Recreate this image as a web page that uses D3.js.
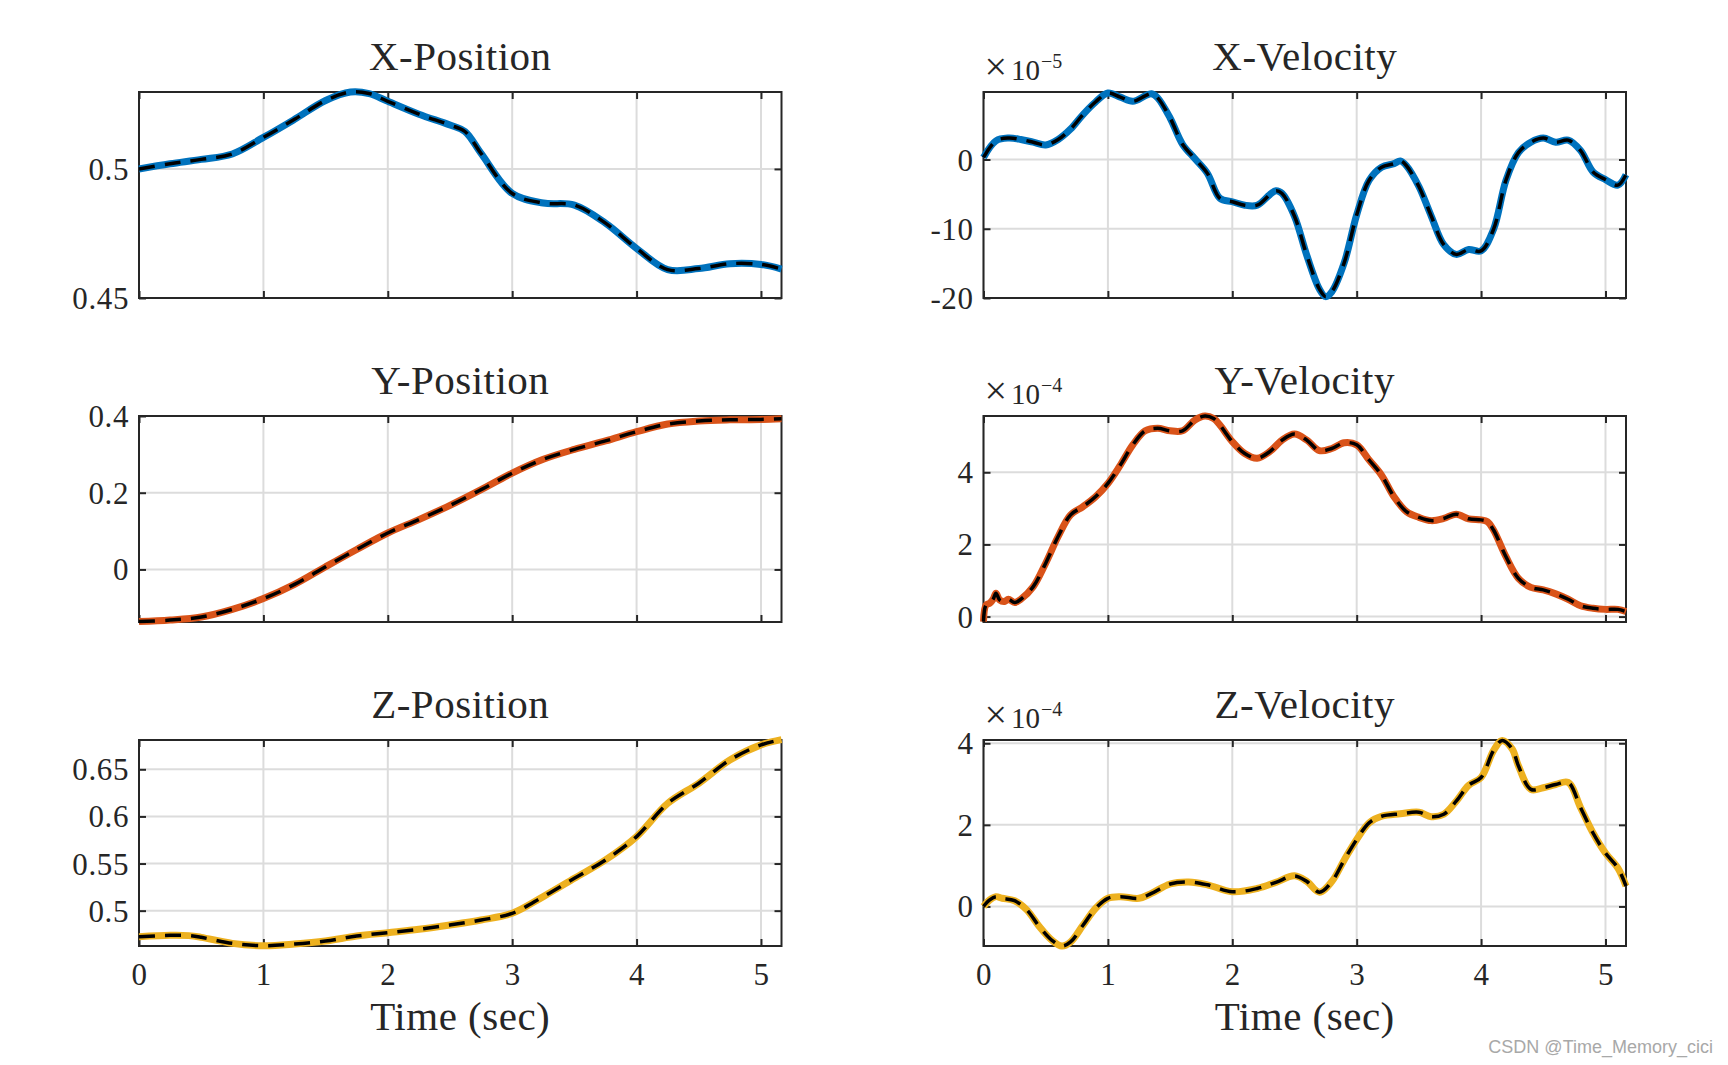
<!DOCTYPE html>
<html><head><meta charset="utf-8">
<script src="https://cdn.jsdelivr.net/npm/d3@7"></script>
<style>
body{margin:0;background:#fff}
svg{display:block}
text{font-family:"Liberation Serif","Times New Roman",serif;fill:#262626}
</style>
</head><body>
<svg id="c" width="1728" height="1065"></svg>
<script>
// ---------- data (time in sec) ----------
const xPosT = [0,0.25,0.5,0.75,1,1.25,1.5,1.7,1.85,2,2.25,2.5,2.62,2.75,3,3.25,3.5,3.75,4,4.25,4.5,4.75,5,5.165];
const xPosV = [0.5,0.502,0.5037,0.5058,0.5122,0.5192,0.5265,0.5298,0.5292,0.5262,0.5212,0.517,0.5145,0.506,0.4905,0.4868,0.486,0.479,0.4692,0.461,0.4614,0.4633,0.463,0.4612];

const yPosT = [0,0.25,0.5,0.75,1,1.25,1.5,1.75,2,2.25,2.5,2.75,3,3.25,3.5,3.75,4,4.25,4.5,4.75,5,5.165];
const yPosV = [-0.136,-0.132,-0.124,-0.104,-0.076,-0.039,0.007,0.052,0.095,0.130,0.167,0.208,0.251,0.287,0.313,0.335,0.359,0.379,0.387,0.390,0.391,0.393];

const zPosT = [0,0.25,0.4,0.5,0.75,1,1.25,1.5,1.75,2,2.25,2.5,2.75,3,3.25,3.5,3.75,4,4.25,4.5,4.75,5,5.165];
const zPosV = [0.4724,0.4738,0.4735,0.4717,0.4653,0.4628,0.4646,0.4678,0.4731,0.4766,0.4802,0.4848,0.4901,0.4972,0.5149,0.5343,0.5538,0.5786,0.6139,0.6352,0.6599,0.6759,0.6815];

// velocities in displayed units (x 10^exp)
const xVelT = [0,0.1,0.2,0.3,0.4,0.5,0.6,0.7,0.8,0.9,1.0,1.1,1.2,1.3,1.35,1.4,1.5,1.6,1.7,1.8,1.9,2.0,2.1,2.2,2.3,2.35,2.4,2.5,2.6,2.7,2.75,2.8,2.9,3.0,3.1,3.2,3.3,3.35,3.4,3.5,3.6,3.7,3.8,3.9,4.0,4.1,4.2,4.3,4.4,4.5,4.6,4.7,4.8,4.9,5.0,5.1,5.165];
const xVelV = [0.3,2.7,3.1,2.9,2.5,2.1,2.9,4.4,6.5,8.3,9.6,9.0,8.4,9.2,9.5,8.9,6.0,2.2,0.1,-2.0,-5.6,-6.1,-6.6,-6.6,-5.1,-4.5,-4.9,-8.2,-13.9,-18.7,-19.8,-19.1,-14.9,-8.0,-3.0,-1.1,-0.6,-0.2,-0.9,-3.9,-8.2,-12.3,-13.7,-13.0,-13.2,-10.1,-3.0,1.0,2.5,3.1,2.5,2.8,1.3,-1.8,-2.9,-3.7,-2.2];

const yVelT = [0,0.02,0.05,0.08,0.1,0.13,0.17,0.2,0.25,0.3,0.4,0.5,0.6,0.7,0.8,0.9,1.0,1.1,1.2,1.3,1.4,1.5,1.6,1.7,1.78,1.85,1.9,2.0,2.1,2.2,2.3,2.4,2.5,2.6,2.7,2.8,2.9,3.0,3.1,3.2,3.3,3.4,3.5,3.6,3.7,3.8,3.9,4.0,4.05,4.1,4.2,4.3,4.4,4.5,4.6,4.7,4.8,4.9,5.0,5.1,5.165];
const yVelV = [-0.14,0.32,0.37,0.5,0.65,0.46,0.42,0.48,0.39,0.48,0.83,1.48,2.22,2.82,3.05,3.32,3.69,4.2,4.76,5.15,5.22,5.15,5.15,5.45,5.56,5.49,5.31,4.85,4.52,4.39,4.57,4.89,5.06,4.89,4.6,4.66,4.82,4.76,4.34,3.92,3.32,2.91,2.75,2.66,2.72,2.84,2.71,2.68,2.63,2.4,1.66,1.06,0.81,0.74,0.63,0.48,0.3,0.23,0.2,0.2,0.14];

const zVelT = [0,0.05,0.1,0.15,0.25,0.35,0.45,0.55,0.63,0.7,0.8,0.9,1.0,1.1,1.25,1.35,1.5,1.65,1.8,2.0,2.2,2.35,2.5,2.6,2.7,2.8,2.9,3.0,3.1,3.2,3.35,3.5,3.6,3.7,3.8,3.9,4.0,4.1,4.17,4.25,4.3,4.4,4.5,4.6,4.7,4.8,4.9,5.0,5.1,5.165];
const zVelV = [0.0,0.16,0.24,0.2,0.14,-0.09,-0.5,-0.83,-0.97,-0.87,-0.46,-0.05,0.2,0.24,0.2,0.32,0.55,0.6,0.53,0.36,0.44,0.59,0.75,0.61,0.35,0.61,1.14,1.64,2.05,2.21,2.27,2.31,2.2,2.26,2.58,2.97,3.16,3.82,4.07,3.86,3.45,2.87,2.91,2.99,3.04,2.42,1.8,1.31,0.94,0.5];

// ---------- axes / labels ----------
const xDomain = [0, 5.165];
const xTicks = [0,1,2,3,4,5];
const xTickLabels = ["0","1","2","3","4","5"];
const xLabel = "Time (sec)";
const titles = ["X-Position","Y-Position","Z-Position","X-Velocity","Y-Velocity","Z-Velocity"];
const colors = ["#0072BD","#D95319","#EDB120"];
const yDomains = [[0.45,0.5298],[-0.137,0.4],[0.4625,0.6811],[-20,9.75],[-0.15,5.56],[-0.97,4.08]];
const yTicks = [[0.45,0.5],[0,0.2,0.4],[0.5,0.55,0.6,0.65],[-20,-10,0],[0,2,4],[0,2,4]];
const yTickLabels = [["0.45","0.5"],["0","0.2","0.4"],["0.5","0.55","0.6","0.65"],["-20","-10","0"],["0","2","4"],["0","2","4"]];
const exponents = [null,null,null,"5","4","4"];
const watermark = "CSDN @Time_Memory_cici";

const series = [[xPosT,xPosV],[yPosT,yPosV],[zPosT,zPosV],[xVelT,xVelV],[yVelT,yVelV],[zVelT,zVelV]];

// ---------- layout ----------
const SERIF = '"Liberation Serif","Times New Roman",serif';
const colLeft = [139, 983.5];
const W = 642.5;
const rowTop = [92, 416, 740];
const H = 206;
const axisColor = "#262626";
const gridColor = "#dcdcdc";
const tickLen = 7;

const svg = d3.select("#c");

for (let i = 0; i < 6; i++) {
  const col = Math.floor(i / 3), row = i % 3;
  const left = colLeft[col], top = rowTop[row];
  const g = svg.append("g").attr("transform", `translate(${left},${top})`);
  const x = d3.scaleLinear().domain(xDomain).range([0, W]);
  const y = d3.scaleLinear().domain(yDomains[i]).range([H, 0]);

  // grid
  g.append("g").selectAll("line").data(xTicks).join("line")
    .attr("x1", d => x(d)).attr("x2", d => x(d)).attr("y1", 0).attr("y2", H)
    .attr("stroke", gridColor).attr("stroke-width", 2);
  g.append("g").selectAll("line").data(yTicks[i]).join("line")
    .attr("x1", 0).attr("x2", W).attr("y1", d => y(d)).attr("y2", d => y(d))
    .attr("stroke", gridColor).attr("stroke-width", 2);

  // axes via d3 axis (inner ticks)
  const fmtY = d => yTickLabels[i][yTicks[i].indexOf(d)];
  const ax = [
    d3.axisBottom(x).tickValues(xTicks).tickSizeInner(-tickLen).tickSizeOuter(0)
      .tickFormat(row === 2 ? (d => xTickLabels[xTicks.indexOf(d)]) : () => ""),
    d3.axisTop(x).tickValues(xTicks).tickSizeInner(-tickLen).tickSizeOuter(0).tickFormat(() => ""),
    d3.axisLeft(y).tickValues(yTicks[i]).tickSizeInner(-tickLen).tickSizeOuter(0).tickFormat(fmtY),
    d3.axisRight(y).tickValues(yTicks[i]).tickSizeInner(-tickLen).tickSizeOuter(0).tickFormat(() => "")
  ];
  const pos = [[0,H],[0,0],[0,0],[W,0]];
  ax.forEach((a, k) => {
    const ag = g.append("g").attr("transform", `translate(${pos[k][0]},${pos[k][1]})`).call(a)
      .attr("font-family", SERIF).attr("font-size", 31);
    ag.select(".domain").remove();
    ag.selectAll(".tick line").attr("stroke", axisColor).attr("stroke-width", 2);
    ag.selectAll(".tick text").style("font-family", SERIF).style("font-size", "31px")
      .style("letter-spacing", "0.6px").style("fill", axisColor);
    if (k === 0) ag.selectAll(".tick text").attr("y", 39).attr("dy", 0);
    if (k === 2) ag.selectAll(".tick text").attr("x", -10).attr("dy", "0.34em");
  });

  // box
  g.append("rect").attr("x", 0).attr("y", 0).attr("width", W).attr("height", H)
    .attr("fill", "none").attr("stroke", axisColor).attr("stroke-width", 2);

  // lines
  const pts = series[i][0].map((t, k) => [t, series[i][1][k]]);
  const line = d3.line().x(d => x(d[0])).y(d => y(d[1])).curve(d3.curveCatmullRom.alpha(0.5));
  g.append("path").attr("d", line(pts)).attr("fill", "none")
    .attr("stroke", colors[row]).attr("stroke-width", 7).attr("stroke-linejoin", "round");
  g.append("path").attr("d", line(pts)).attr("fill", "none")
    .attr("stroke", "#000").attr("stroke-width", 3.5).attr("stroke-dasharray", "16,10");

  // title
  g.append("text").attr("x", W / 2).attr("y", -22).attr("text-anchor", "middle")
    .style("font-family", SERIF).style("font-size", "41px").style("letter-spacing", "0.5px")
    .text(titles[i]);

  // exponent
  if (exponents[i]) {
    const t = g.append("text").attr("x", 1).attr("y", -12).style("font-family", SERIF);
    t.append("tspan").style("font-size", "40px").text("×");
    t.append("tspan").attr("dx", 4).style("font-size", "29px").text("10");
    t.append("tspan").attr("dx", 1).attr("dy", -12).style("font-size", "20px").text("−" + exponents[i]);
  }

  // x label
  if (row === 2) {
    g.append("text").attr("x", W / 2).attr("y", H + 84).attr("text-anchor", "middle")
      .style("font-family", SERIF).style("font-size", "41px").style("letter-spacing", "0.5px")
      .text(xLabel);
  }
}

svg.append("text").attr("x", 1713).attr("y", 1053).attr("text-anchor", "end")
  .style("font-family", "'Liberation Sans', Arial, sans-serif").style("font-size", "18px")
  .style("fill", "#a8a8a8").text(watermark);
</script>
</body></html>
